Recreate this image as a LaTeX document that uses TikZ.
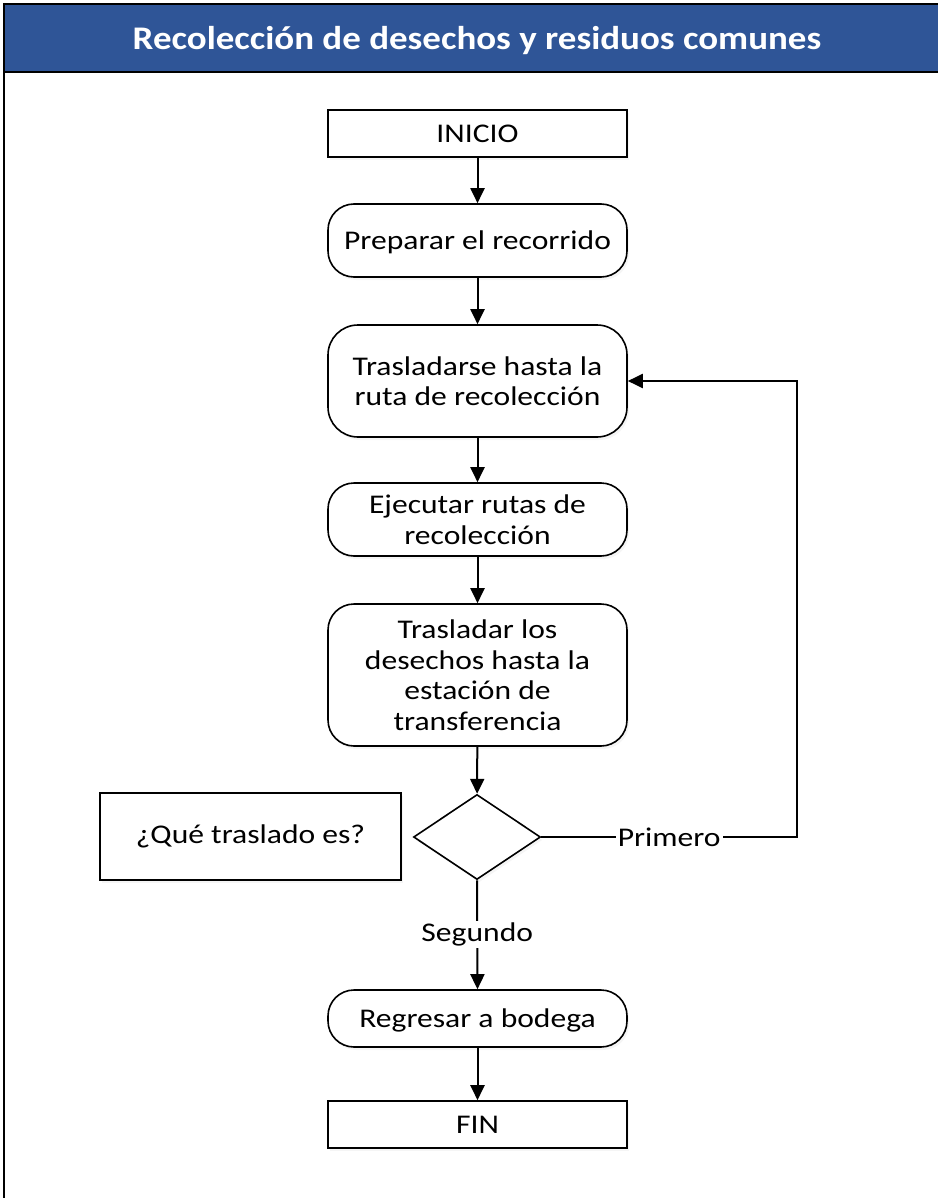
\documentclass[tikz,border=0pt]{standalone}
\usepackage{fontspec}
\setmainfont{Carlito}[FakeStretch=1.17]
\newfontfamily\titlefont{Carlito}[FakeStretch=1.12]
\usetikzlibrary{arrows.meta,shapes.geometric,shadows}
\definecolor{titleblue}{HTML}{2F5597}
\begin{document}
\begin{tikzpicture}[x=1pt,y=-1pt,
  box/.style={draw, line width=1.6pt, fill=white, minimum width=299pt, align=center,
    font=\fontsize{27}{30.5}\selectfont, inner sep=0pt,
    drop shadow={shadow xshift=2pt, shadow yshift=-3pt, fill=gray!15}},
  rbox/.style={box, rounded corners=26pt},
  arr/.style={line width=2pt, -{Triangle[width=14pt,length=15pt]}},
  lbl/.style={fill=white, font=\fontsize{27}{30}\selectfont, inner sep=2pt}]
\useasboundingbox (0,0) rectangle (937,1198);
\fill[titleblue] (4,4) rectangle (940,72);
\draw[line width=1.5pt] (4,1205) -- (4,4) -- (940,4);
\draw[line width=1.5pt] (4,72) -- (940,72);
\node[white, font=\titlefont\bfseries\fontsize{33}{40}\selectfont] (title) at (477,41) {Recolección de desechos y residuos comunes};

\node[box, minimum height=47pt] (inicio) at (477.5,133.5) {INICIO};
\node[rbox, minimum height=73pt, text depth=0pt] (prep) at (477.5,240.5) {Preparar el recorrido};
\node[rbox, minimum height=112pt, rounded corners=30pt] (tras) at (477.5,381) {Trasladarse hasta la\\ruta de recolección};
\node[rbox, minimum height=73pt] (ejec) at (477.5,519.5) {Ejecutar rutas de\\recolección};
\node[rbox, minimum height=142pt] (trasl) at (477.5,675) {Trasladar los\\desechos hasta la\\estación de\\transferencia};
\node[box, shape=diamond, minimum width=127pt, minimum height=85pt] (dec) at (477,837) {};
\node[box, minimum width=301pt, minimum height=87pt, drop shadow={opacity=0}] (q) at (250.5,836.5) {¿Qué traslado es?};
\node[rbox, minimum height=57pt, text depth=0pt] (reg) at (477.5,1018.5) {Regresar a bodega};
\node[box, minimum height=47pt] (fin) at (477.5,1124.5) {FIN};
\coordinate (corner) at (797,837);

\draw[arr] (inicio) -- (prep);
\draw[arr] (prep) -- (tras);
\draw[arr] (tras) -- (ejec);
\draw[arr] (ejec) -- (trasl);
\draw[arr] (trasl) -- (dec);
\draw[arr] (dec.east) -- node[lbl]{Primero} (corner) |- (tras.east);
\draw[arr] (dec.south) -- node[lbl]{Segundo} (reg.north);
\draw[arr] (reg) -- (fin);
\end{tikzpicture}
\end{document}
